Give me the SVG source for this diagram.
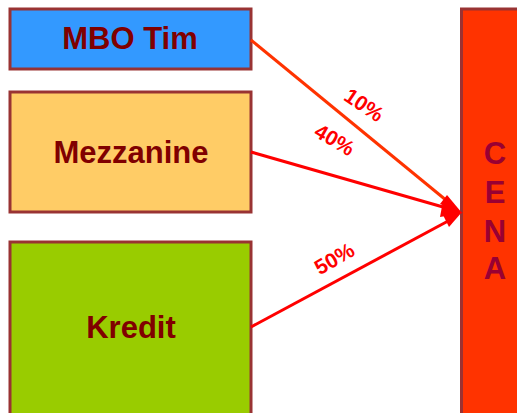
<svg xmlns="http://www.w3.org/2000/svg" width="517" height="413" viewBox="0 0 517 413">
  <defs>
    <style>
      .box { stroke: #993333; stroke-width: 3; }
      .label { font-family: "Liberation Sans", Arial, sans-serif; font-weight: bold; font-size: 31px; fill: #800000; text-anchor: middle; }
      .cena { font-family: "Liberation Sans", Arial, sans-serif; font-weight: bold; font-size: 31px; fill: #990033; text-anchor: middle; }
      .pct { font-family: "Liberation Sans", Arial, sans-serif; font-weight: bold; font-size: 21px; fill: #FF0000; text-anchor: middle; }
      .link { fill: none; stroke-width: 3; }
      .head { fill: #FF0000; }
    </style>
  </defs>
  <rect width="517" height="413" fill="#FFFFFF"/>

  <g id="mbo-tim">
    <rect class="box" x="10" y="9" width="241" height="60" fill="#3399FF"/>
    <text class="label" x="130" y="49">MBO Tim</text>
  </g>

  <g id="mezzanine">
    <rect class="box" x="10" y="92" width="241" height="120" fill="#FFCC66"/>
    <text class="label" x="131" y="163">Mezzanine</text>
  </g>

  <g id="kredit">
    <rect class="box" x="10" y="242" width="241" height="180" fill="#99CC00"/>
    <text class="label" x="131" y="338">Kredit</text>
  </g>

  <g id="cena">
    <rect class="box" x="461.5" y="9" width="70" height="420" fill="#FF3300"/>
    <text class="cena" x="495" y="164">C</text>
    <text class="cena" x="495" y="203">E</text>
    <text class="cena" x="495" y="242">N</text>
    <text class="cena" x="495" y="279">A</text>
  </g>

  <g id="connectors">
    <line class="link" x1="251" y1="40" x2="452" y2="205" stroke="#FF3300"/>
    <path class="head" d="M447,195 L462,213 L440,204 Z"/>
    <line class="link" x1="251" y1="152" x2="450" y2="209" stroke="#FF0000"/>
    <path class="head" d="M443,201 L463,213 L440,217 Z"/>
    <line class="link" x1="251" y1="327" x2="450" y2="220" stroke="#FF0000"/>
    <path class="head" d="M443,215 L462,212 L449,227 Z"/>
    <text class="pct" transform="translate(360,111) rotate(34)">10%</text>
    <text class="pct" transform="translate(331,146) rotate(30)">40%</text>
    <text class="pct" transform="translate(338,265) rotate(-30)">50%</text>
  </g>
</svg>
